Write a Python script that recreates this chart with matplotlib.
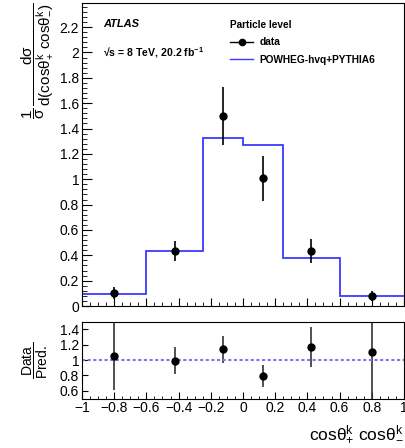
import matplotlib
matplotlib.use('Agg')
import matplotlib.pyplot as plt
from matplotlib.ticker import MultipleLocator, FuncFormatter
from matplotlib.lines import Line2D

plt.rcParams['font.family'] = ['Liberation Sans', 'DejaVu Sans']
plt.rcParams['mathtext.fontset'] = 'custom'
plt.rcParams['mathtext.rm'] = 'Liberation Sans'
plt.rcParams['mathtext.it'] = 'Liberation Sans:italic'
plt.rcParams['mathtext.bf'] = 'Liberation Sans:bold'

# ---- data ----
bin_edges = [-1, -0.6, -0.25, 0, 0.25, 0.6, 1]
pred = [0.094, 0.435, 1.325, 1.273, 0.376, 0.079]
data_x = [-0.8, -0.425, -0.125, 0.125, 0.425, 0.8]
data_y = [0.100, 0.433, 1.498, 1.006, 0.435, 0.081]
data_err = [0.046, 0.076, 0.23, 0.177, 0.096, 0.04]
ratio = [1.055, 0.99, 1.138, 0.794, 1.17, 1.10]
ratio_err = [0.45, 0.175, 0.177, 0.145, 0.26, 0.75]

W, H = 406, 448
fig = plt.figure(figsize=(W / 100, H / 100), dpi=100)

def fr(l, t, r, b):
    return [l / W, 1 - b / H, (r - l) / W, (b - t) / H]

ax = fig.add_axes(fr(82, 3, 404, 306))
ax2 = fig.add_axes(fr(82, 321.5, 404, 398.5))

blue = '#3a3aff'

ax.stairs(pred, bin_edges, baseline=None, color=blue, lw=1.3)
ax.errorbar(data_x, data_y, yerr=data_err, fmt='o', color='k', ms=5, elinewidth=1.2, capsize=0)
ax.set_xlim(-1, 1)
ax.set_ylim(0, 2.39)

fmt = FuncFormatter(lambda v, p: ('%g' % round(v, 3)).replace('-', '\u2212'))
for a in (ax, ax2):
    a.xaxis.set_major_locator(MultipleLocator(0.2))
    a.xaxis.set_minor_locator(MultipleLocator(0.05))
    a.tick_params(which='both', direction='in', top=False, right=False, labelsize=10, pad=2)
    for s in a.spines.values():
        s.set_linewidth(0.8)
ax.yaxis.set_major_locator(MultipleLocator(0.2))
ax.yaxis.set_minor_locator(MultipleLocator(0.04))
ax.yaxis.set_major_formatter(fmt)
ax.tick_params(axis='y', which='major', length=7)
ax.tick_params(axis='y', which='minor', length=3.5)
ax.tick_params(axis='x', which='major', length=5.5, labelbottom=False)
ax.tick_params(axis='x', which='minor', length=3)

ax.set_ylabel(r'$\dfrac{\mathrm{1}}{\mathrm{\sigma}}\,\dfrac{\mathrm{d\sigma}}{\mathrm{d(cos\theta^{k}_{+}\ cos\theta^{k}_{-})}}$',
              fontsize=11, loc='top')
ax.yaxis.set_label_coords(-0.085, 1.0)

ax.text(0.066, 0.93, 'ATLAS', transform=ax.transAxes, fontsize=8, weight='bold', style='italic', va='center')
ax.text(0.066, 0.835, '\u221as = 8 TeV, 20.2 fb$^{\\mathbf{-1}}$', transform=ax.transAxes, fontsize=7.6,
        weight='bold', va='center')

handles = [Line2D([], [], color='k', marker='o', ms=4.5, lw=1),
           Line2D([], [], color=blue, lw=1)]
ax.legend(handles=handles, labels=['data', 'POWHEG-hvq+PYTHIA6'], title='Particle level',
          loc='upper left', bbox_to_anchor=(0.46, 0.945), frameon=False,
          prop={'weight': 'bold', 'size': 7.3}, title_fontproperties={'weight': 'bold', 'size': 7.2},
          alignment='left', handlelength=2.3, handletextpad=0.6, labelspacing=0.75,
          borderpad=0, borderaxespad=0)

ax2.errorbar(data_x, ratio, yerr=ratio_err, fmt='o', color='k', ecolor='#333333', ms=5, elinewidth=1.2, capsize=0)
ax2.axhline(1, color='#7a7aee', lw=1.5, ls=(0, (1.5, 1.2)))
ax2.set_xlim(-1, 1)
ax2.set_ylim(0.5, 1.5)
ax2.yaxis.set_major_locator(MultipleLocator(0.2))
ax2.yaxis.set_minor_locator(MultipleLocator(0.2))
ax2.xaxis.set_major_formatter(fmt)
ax2.yaxis.set_major_formatter(fmt)
ax2.tick_params(axis='y', which='major', length=4)
ax2.tick_params(axis='y', which='minor', length=0)
ax2.tick_params(axis='x', which='major', length=5)
ax2.tick_params(axis='x', which='minor', length=2.5)
ax2.set_ylabel(r'$\dfrac{\mathrm{Data}}{\mathrm{Pred.}}$', fontsize=10)
ax2.yaxis.set_label_coords(-0.098, 0.5)
ax2.set_xlabel(r'$\mathrm{cos\theta^{k}_{+}\ cos\theta^{k}_{-}}$', fontsize=12.5, loc='right', labelpad=6)

fig.savefig('out.png', dpi=100)
